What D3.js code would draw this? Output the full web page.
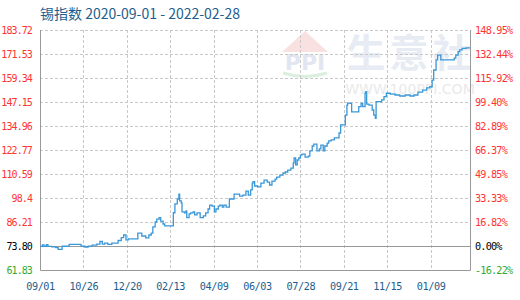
<!DOCTYPE html>
<html>
<head>
<meta charset="utf-8">
<script src="https://cdn.jsdelivr.net/npm/d3@7"></script>
<style>
  body { margin: 0; background: #fff; }
  svg { display: block; }
</style>
</head>
<body>
<script>
// data
const dates = [
  "2020-09-01","2020-09-04","2020-09-06","2020-09-09","2020-09-11","2020-09-16","2020-09-21","2020-09-24","2020-09-29",
  "2020-10-08","2020-10-23","2020-10-28","2020-11-01","2020-11-06","2020-11-12","2020-11-16","2020-11-19","2020-11-22",
  "2020-11-26","2020-12-01","2020-12-06","2020-12-09","2020-12-13","2020-12-16","2020-12-19","2020-12-22","2020-12-28",
  "2021-01-03","2021-01-08","2021-01-13","2021-01-17","2021-01-20","2021-01-22","2021-01-25","2021-01-27","2021-01-30",
  "2021-02-01","2021-02-04","2021-02-06","2021-02-15","2021-02-17","2021-02-19","2021-02-22","2021-02-24","2021-02-25",
  "2021-02-27","2021-02-28","2021-03-03","2021-03-05","2021-03-06","2021-03-09","2021-03-11","2021-03-14","2021-03-16",
  "2021-03-19","2021-03-23","2021-03-27","2021-03-30","2021-04-02","2021-04-04","2021-04-07","2021-04-10","2021-04-12",
  "2021-04-15","2021-04-17","2021-04-20","2021-04-22","2021-04-25","2021-04-29","2021-05-05","2021-05-12","2021-05-16",
  "2021-05-20","2021-05-23","2021-05-26","2021-05-28","2021-05-29","2021-05-31","2021-06-04","2021-06-08","2021-06-12",
  "2021-06-16","2021-06-19","2021-06-22","2021-06-26","2021-06-28","2021-07-02","2021-07-06","2021-07-09","2021-07-12",
  "2021-07-16","2021-07-19","2021-07-20","2021-07-22","2021-07-24","2021-07-26","2021-07-28","2021-07-30","2021-08-03",
  "2021-08-07","2021-08-09","2021-08-12","2021-08-14","2021-08-18","2021-08-21","2021-08-23","2021-08-26","2021-08-28",
  "2021-08-31","2021-09-02","2021-09-05","2021-09-09","2021-09-12","2021-09-15","2021-09-17","2021-09-20","2021-09-23",
  "2021-09-25","2021-09-26","2021-09-29","2021-10-01","2021-10-07","2021-10-10","2021-10-13","2021-10-15","2021-10-18",
  "2021-10-19","2021-10-20","2021-10-23","2021-10-27","2021-10-29","2021-10-31","2021-11-01","2021-11-06","2021-11-08",
  "2021-11-11","2021-11-14","2021-11-19","2021-11-25","2021-12-01","2021-12-08","2021-12-14","2021-12-19","2021-12-24",
  "2021-12-30","2022-01-04","2022-01-08","2022-01-11","2022-01-13","2022-01-16","2022-01-18","2022-01-22","2022-01-29",
  "2022-02-04","2022-02-08","2022-02-10","2022-02-13","2022-02-15","2022-02-18","2022-02-23","2022-02-28"
];
const values = [
  73.80,74.6,73.9,74.7,73.8,73.6,73.2,72.3,73.9,
  74.8,74.0,73.5,74.0,74.5,75.0,76.3,75.0,75.5,
  74.8,75.5,75.5,76.8,78.3,79.6,77.1,77.6,77.6,
  80.6,79.1,78.1,79.6,80.6,83.7,86.2,87.7,88.4,
  86.7,85.2,84.2,84.2,90.9,95.4,97.9,100.4,96.9,
  95.9,91.3,90.8,91.8,88.4,90.3,90.8,91.3,89.8,
  90.8,88.4,89.3,90.8,92.8,94.8,94.3,91.3,92.8,
  94.3,94.8,93.8,94.8,93.8,97.9,100.4,99.4,99.9,
  101.9,99.9,102.5,106.0,106.7,104.5,104.0,106.0,107.5,
  106.5,105.0,107.0,108.0,109.0,110.0,111.1,111.6,112.6,
  113.6,116.2,118.7,115.2,117.7,118.7,120.2,120.7,119.2,
  119.7,122.3,124.8,125.8,122.3,123.3,125.3,122.3,124.8,
  126.3,127.4,127.9,128.9,128.9,131.4,135.5,135.5,140.5,
  145.6,146.6,146.5,142.1,142.1,144.8,146.5,144.8,151.6,
  152.4,146.1,145.6,143.1,140.5,138.9,147.3,147.3,148.2,
  149.9,151.6,151.2,150.7,150.2,150.7,150.2,150.7,152.2,
  153.2,154.3,154.9,158.3,163.4,168.5,171.0,168.5,168.5,
  168.5,169.4,171.0,172.7,173.6,174.4,174.6,174.6
];

const yTicks = [61.83, 73.80, 86.21, 98.4, 110.59, 122.77, 134.96, 147.15, 159.34, 171.53, 183.72];
const yTickLabels = ["61.83","73.80","86.21","98.4","110.59","122.77","134.96","147.15","159.34","171.53","183.72"];
const pctLabels = ["-16.22%","0.00%","16.82%","33.33%","49.85%","66.37%","82.89%","99.40%","115.92%","132.44%","148.95%"];
const xTicks = ["2020-09-01","2020-10-26","2020-12-20","2021-02-13","2021-04-09","2021-06-03",
                "2021-07-28","2021-09-21","2021-11-15","2022-01-09"];
const baseValue = 73.80;
const titleText = "锡指数 2020-09-01 - 2022-02-28";

const width = 520, height = 300;
const margin = {top: 30, right: 50, bottom: 30, left: 40};
const parse = d3.timeParse("%Y-%m-%d");
const series = dates.map((d, i) => ({date: parse(d), value: values[i]}));

const svg = d3.select("body").append("svg")
  .attr("width", width)
  .attr("height", height);

const x = d3.scaleTime()
  .domain([parse("2020-09-01"), parse("2022-02-28")])
  .range([margin.left, width - margin.right]);
const y = d3.scaleLinear()
  .domain([yTicks[0], yTicks[yTicks.length - 1]])
  .range([height - margin.bottom, margin.top]);

const labelColor = (i) => i === 0 ? "#33aa33" : (yTicks[i] === baseValue ? "#000" : "#ff3333");
const monoFont = "'DejaVu Sans Mono', monospace";

//watermark
const wm = svg.append("g").attr("opacity", 0.55);
wm.append("path")
  .attr("d", "M305,31 L282,52 L328,52 Z")
  .attr("fill", "#f6c9c9");
wm.append("text")
  .attr("x", 305).attr("y", 70)
  .attr("text-anchor", "middle")
  .attr("font-family", "'DejaVu Sans', sans-serif")
  .attr("font-size", 22).attr("font-weight", "bold")
  .attr("fill", "#c9d3e6")
  .text("PPI");
wm.append("path")
  .attr("d", "M283,73 Q305,80 327,73")
  .attr("fill", "none").attr("stroke", "#bfe3c4").attr("stroke-width", 3);
wm.append("text")
  .attr("x", 411).attr("y", 67)
  .attr("text-anchor", "middle")
  .attr("font-family", "'Noto Sans CJK SC', sans-serif")
  .attr("font-size", 39).attr("font-weight", "bold")
  .attr("letter-spacing", 4)
  .attr("fill", "#d5dcea")
  .text("生意社");
wm.append("text")
  .attr("x", 410).attr("y", 94)
  .attr("text-anchor", "middle")
  .attr("font-family", "'DejaVu Sans', sans-serif")
  .attr("font-size", 14)
  .attr("fill", "#d8d8d8")
  .text("WWW.100PPI.COM");

//grid
const grid = svg.append("g")
  .attr("stroke", "#c8c8c8")
  .attr("stroke-dasharray", "3,2");
grid.selectAll("line.h")
  .data(yTicks.filter((d, i) => i > 0 && d !== baseValue))
  .join("line")
  .attr("class", "h")
  .attr("x1", margin.left).attr("x2", width - margin.right)
  .attr("y1", d => Math.round(y(d)) + 0.5).attr("y2", d => Math.round(y(d)) + 0.5);
grid.selectAll("line.v")
  .data(xTicks.slice(1))
  .join("line")
  .attr("class", "v")
  .attr("x1", d => Math.round(x(parse(d))) + 0.5).attr("x2", d => Math.round(x(parse(d))) + 0.5)
  .attr("y1", margin.top).attr("y2", height - margin.bottom);

//base line and frame
svg.append("line")
  .attr("x1", margin.left).attr("x2", width - margin.right)
  .attr("y1", Math.round(y(baseValue)) + 0.5).attr("y2", Math.round(y(baseValue)) + 0.5)
  .attr("stroke", "#999");
svg.append("path")
  .attr("d", `M${margin.left + 0.5},${margin.top} V${height - margin.bottom + 0.5} H${width - margin.right + 0.5} V${margin.top}`)
  .attr("fill", "none")
  .attr("stroke", "#999");

//line
const line = d3.line()
  .curve(d3.curveStepAfter)
  .x(d => x(d.date))
  .y(d => y(d.value));
svg.append("path")
  .datum(series)
  .attr("d", line)
  .attr("fill", "none")
  .attr("stroke", "#3a97d8")
  .attr("stroke-width", 1.3);

//left axis
const yLeft = svg.append("g")
  .attr("transform", `translate(${margin.left},0)`)
  .call(d3.axisLeft(y).tickValues(yTicks).tickSize(0).tickPadding(8)
    .tickFormat((d, i) => yTickLabels[i]));
yLeft.select(".domain").remove();
yLeft.selectAll("text")
  .attr("font-family", monoFont)
  .attr("font-size", 10)
  .attr("letter-spacing", -0.9)
  .attr("fill", (d, i) => labelColor(i));

//right axis
const yRight = svg.append("g")
  .attr("transform", `translate(${width - margin.right},0)`)
  .call(d3.axisRight(y).tickValues(yTicks).tickSize(0).tickPadding(5)
    .tickFormat((d, i) => pctLabels[i]));
yRight.select(".domain").remove();
yRight.selectAll("text")
  .attr("font-family", monoFont)
  .attr("font-size", 10.2)
  .attr("letter-spacing", -0.8)
  .attr("fill", (d, i) => labelColor(i));

//bottom axis
const xAxis = svg.append("g")
  .attr("transform", `translate(0,${height - margin.bottom})`)
  .call(d3.axisBottom(x).tickValues(xTicks.map(parse)).tickSize(0).tickPadding(13)
    .tickFormat(d3.timeFormat("%m/%d")));
xAxis.select(".domain").remove();
xAxis.selectAll("text")
  .attr("font-family", monoFont)
  .attr("font-size", 10.2)
  .attr("letter-spacing", -0.4)
  .attr("fill", "#1d5e8e");

//title
svg.append("text")
  .attr("x", margin.left)
  .attr("y", 19)
  .attr("font-family", "'Noto Sans CJK SC', 'Noto Sans', sans-serif")
  .attr("font-size", 14)
  .attr("fill", "#1d5e8e")
  .text(titleText);
</script>
</body>
</html>
